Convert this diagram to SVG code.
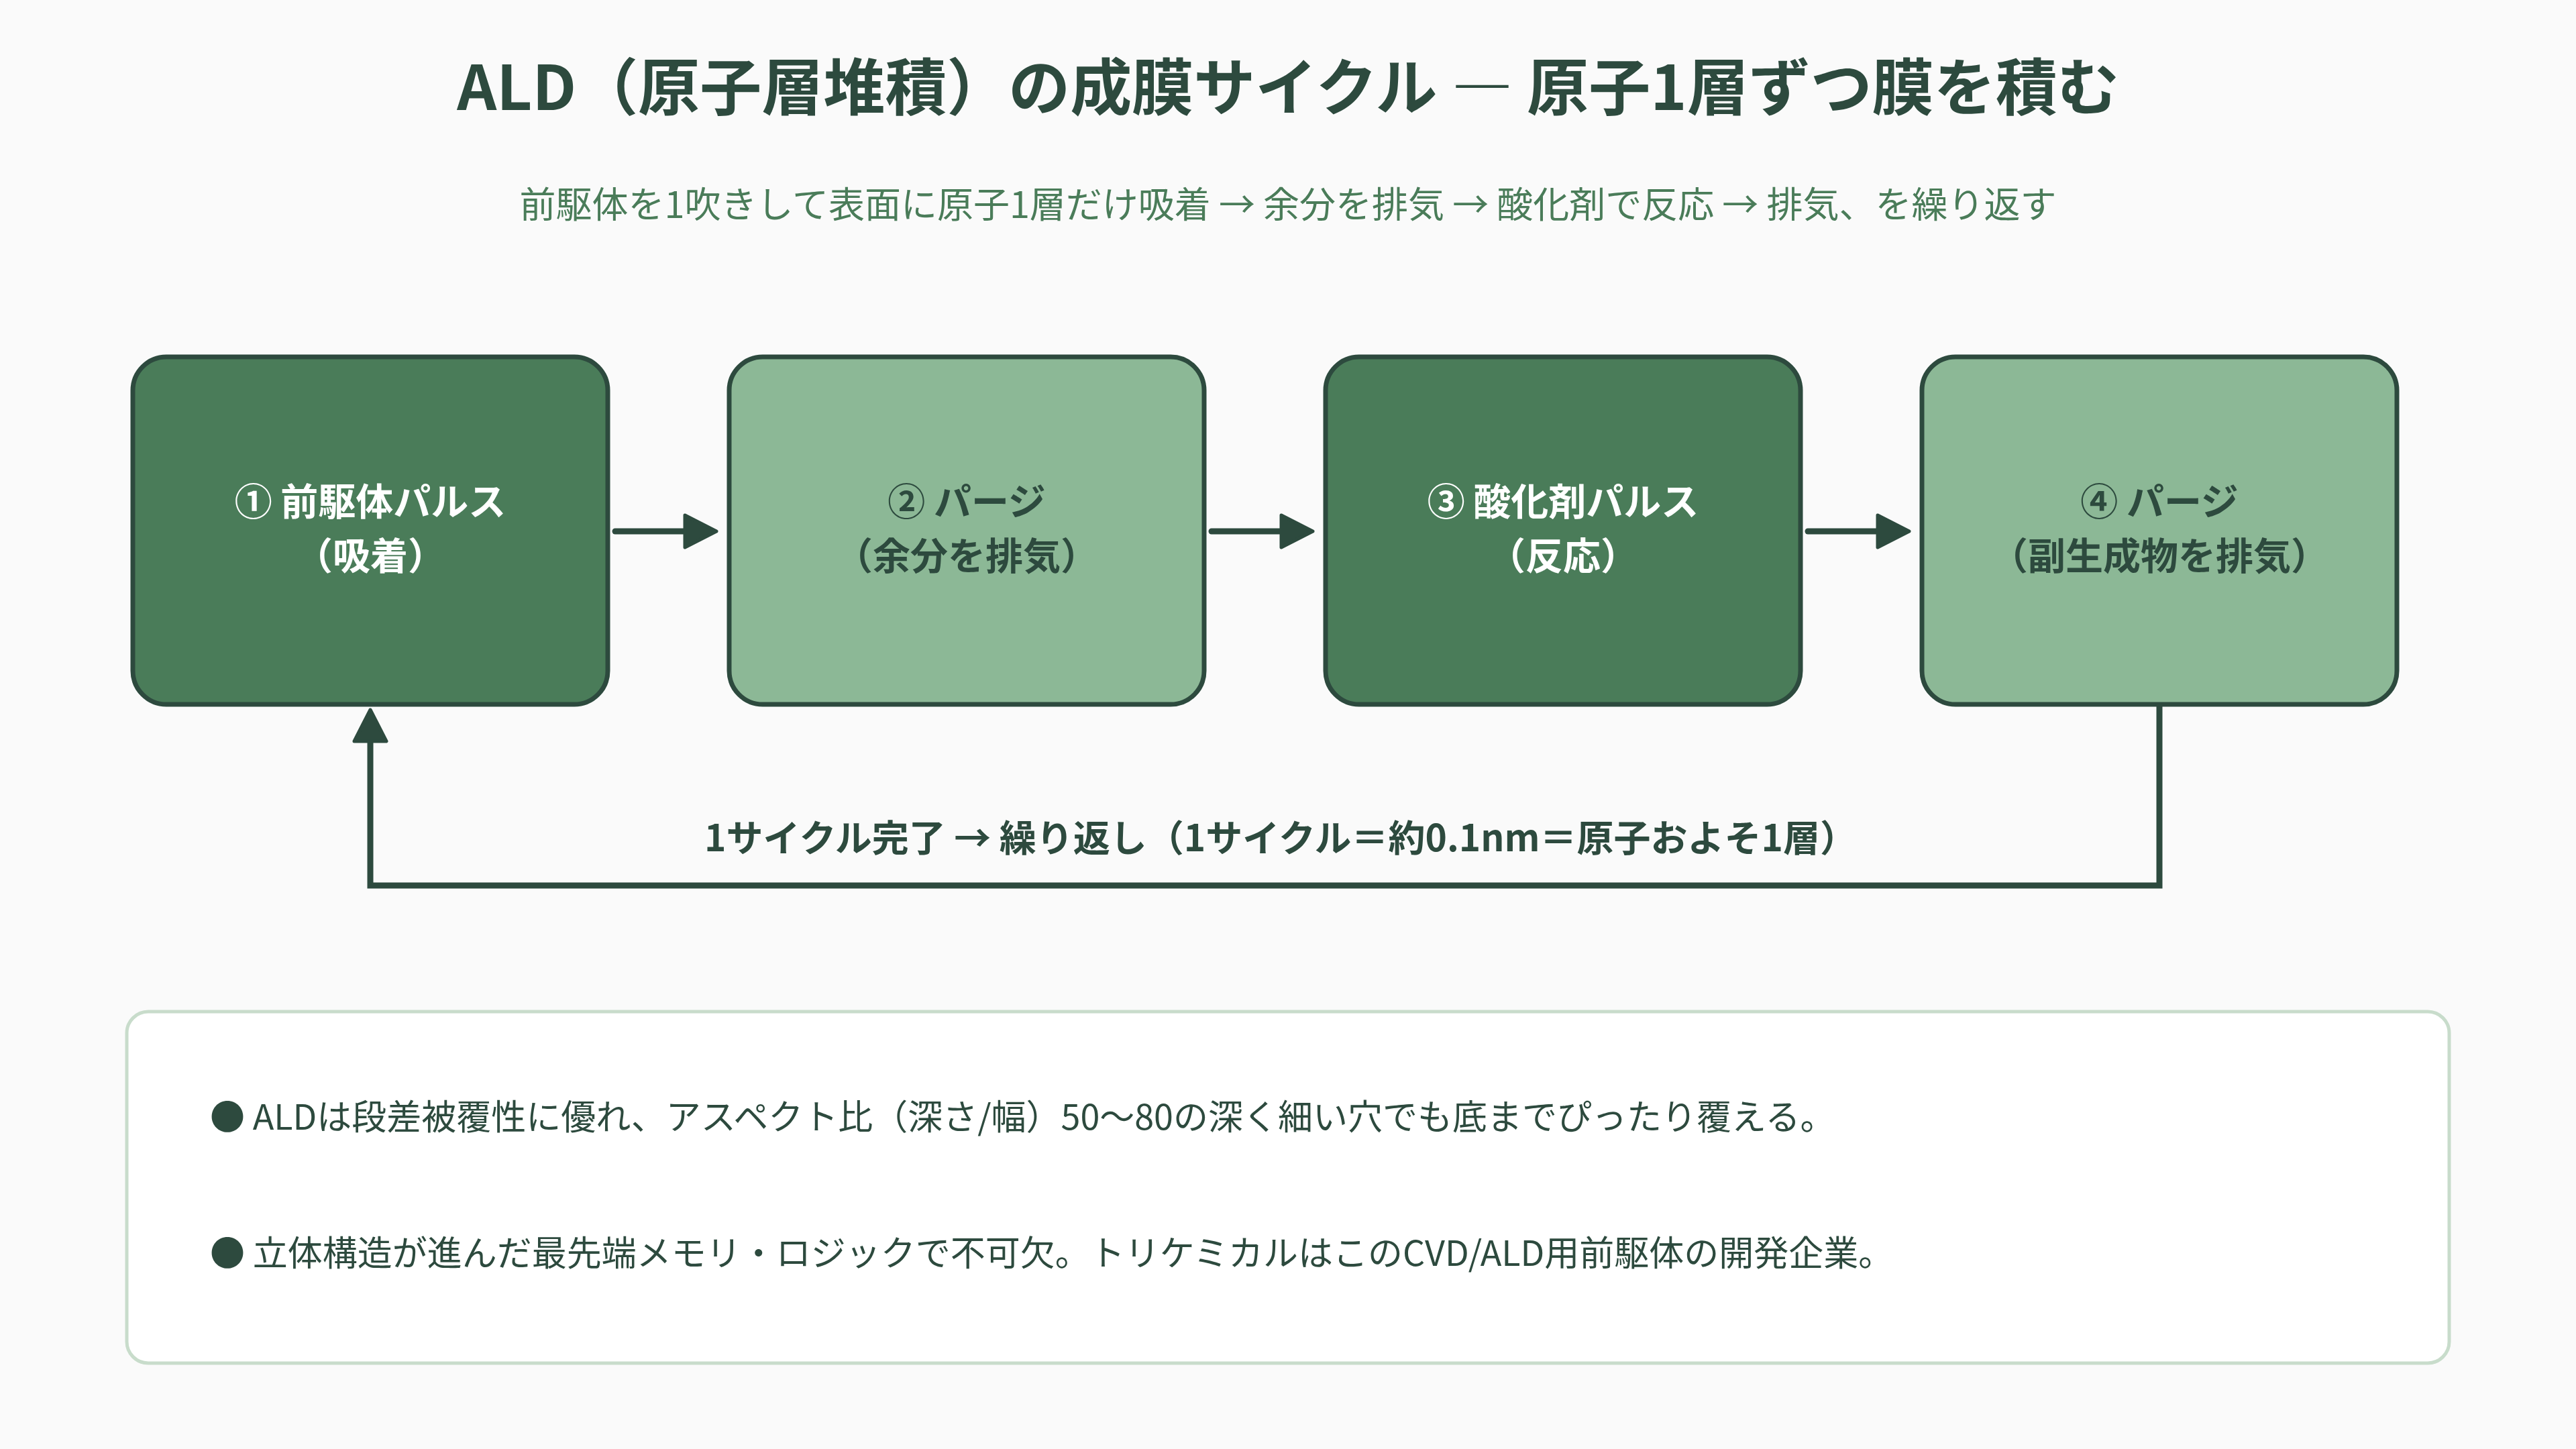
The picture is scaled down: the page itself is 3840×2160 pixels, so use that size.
<svg xmlns="http://www.w3.org/2000/svg" width="3840" height="2160" viewBox="0 0 3840 2160">
<defs>
<style>
.t{font-family:"Noto Sans CJK JP","Noto Sans",sans-serif;text-anchor:middle}
.title{font-size:92px;font-weight:700;fill:#2d4a3e}
.sub{font-size:54px;font-weight:400;fill:#4a7c59}
.box-d{fill:#4a7c59;stroke:#2d4a3e;stroke-width:7}
.box-l{fill:#8cb896;stroke:#2d4a3e;stroke-width:7}
.lbl{font-size:56px;font-weight:700}
.lbl-d{fill:#ffffff}
.lbl-l{fill:#2d4a3e}
.conn{fill:none;stroke:#2d4a3e;stroke-width:9;stroke-linecap:round}
.loop{font-size:55px;font-weight:700;fill:#2d4a3e}
.note{font-family:"Noto Sans CJK JP","Noto Sans",sans-serif;font-size:52px;fill:#2d4a3e}
</style>
<marker id="ah" markerUnits="userSpaceOnUse" markerWidth="60" markerHeight="60" refX="28" refY="27" orient="auto">
<path d="M3,3 L50,27 L3,51 Z" fill="#2d4a3e" stroke="#2d4a3e" stroke-width="5" stroke-linejoin="round"/>
</marker>
</defs>
<rect width="3840" height="2160" fill="#fafafa"/>
<text class="t title" x="1920" y="164">ALD（原子層堆積）の成膜サイクル ― 原子1層ずつ膜を積む</text>
<text class="t sub" x="1920" y="325">前駆体を1吹きして表面に原子1層だけ吸着 → 余分を排気 → 酸化剤で反応 → 排気、を繰り返す</text>
<g id="connectors">
<line class="conn" x1="917" y1="792" x2="1046" y2="792" marker-end="url(#ah)"/>
<line class="conn" x1="1806" y1="792" x2="1935" y2="792" marker-end="url(#ah)"/>
<line class="conn" x1="2695" y1="792" x2="2824" y2="792" marker-end="url(#ah)"/>
<path class="conn" style="stroke-linejoin:miter" d="M3219,1050 V1320 H552 V1080" marker-end="url(#ah)"/>
<text class="t loop" x="1909" y="1269">1サイクル完了 → 繰り返し（1サイクル＝約0.1nm＝原子およそ1層）</text>
</g>
<g id="node1">
<rect class="box-d" x="198" y="532" width="708" height="518" rx="50"/>
<text class="t lbl lbl-d" x="552" y="768">① 前駆体パルス</text>
<text class="t lbl lbl-d" x="552" y="849">（吸着）</text>
</g>
<g id="node2">
<rect class="box-l" x="1087" y="532" width="708" height="518" rx="50"/>
<text class="t lbl lbl-l" x="1441" y="768">② パージ</text>
<text class="t lbl lbl-l" x="1441" y="849">（余分を排気）</text>
</g>
<g id="node3">
<rect class="box-d" x="1976" y="532" width="708" height="518" rx="50"/>
<text class="t lbl lbl-d" x="2330" y="768">③ 酸化剤パルス</text>
<text class="t lbl lbl-d" x="2330" y="849">（反応）</text>
</g>
<g id="node4">
<rect class="box-l" x="2865" y="532" width="708" height="518" rx="50"/>
<text class="t lbl lbl-l" x="3219" y="768">④ パージ</text>
<text class="t lbl lbl-l" x="3219" y="849">（副生成物を排気）</text>
</g>
<g id="notes">
<rect x="189" y="1508" width="3462" height="524" rx="32" fill="#ffffff" stroke="#c8dccb" stroke-width="5"/>
<text class="note" x="313" y="1684">● ALDは段差被覆性に優れ、アスペクト比（深さ/幅）50〜80の深く細い穴でも底までぴったり覆える。</text>
<text class="note" x="313" y="1887">● 立体構造が進んだ最先端メモリ・ロジックで不可欠。トリケミカルはこのCVD/ALD用前駆体の開発企業。</text>
</g>
</svg>
